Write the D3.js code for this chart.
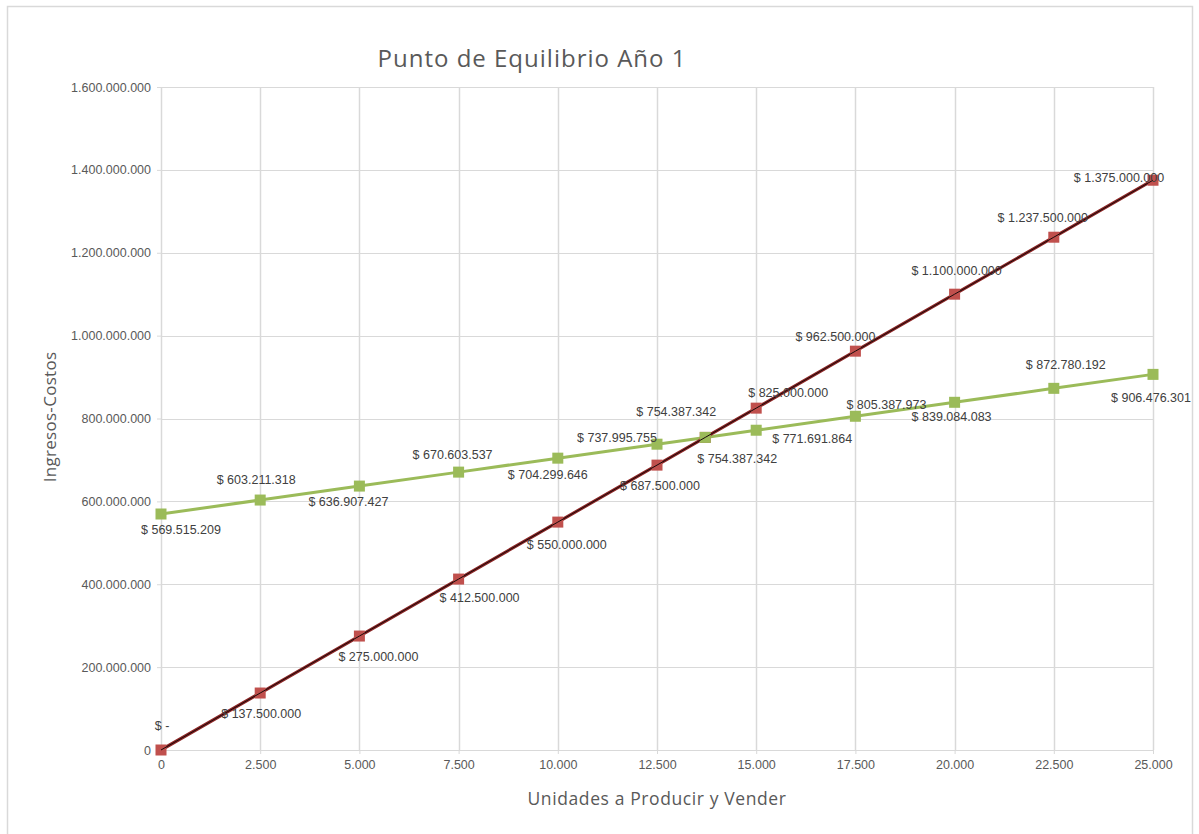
<!DOCTYPE html>
<html>
<head>
<meta charset="utf-8">
<script src="https://cdn.jsdelivr.net/npm/d3@7/dist/d3.min.js"></script>
<style>
  html, body { margin: 0; padding: 0; background: #ffffff; }
  svg { display: block; }
</style>
</head>
<body>
<svg id="chart" width="1199" height="834"></svg>
<script>
// Units produced and sold (includes the break-even point)
const unidades = [0, 2500, 5000, 7500, 10000, 12500, 13716, 15000, 17500, 20000, 22500, 25000];
// Total costs
const costos = [569515209, 603211318, 636907427, 670603537, 704299646, 737995755, 754387342,
                771691864, 805387973, 839084083, 872780192, 906476301];
// Revenue
const ingresos = [0, 137500000, 275000000, 412500000, 550000000, 687500000, 754387342,
                  825000000, 962500000, 1100000000, 1237500000, 1375000000];
const xTicks = [0, 2500, 5000, 7500, 10000, 12500, 15000, 17500, 20000, 22500, 25000];
const yTicks = [0, 200000000, 400000000, 600000000, 800000000, 1000000000, 1200000000, 1400000000, 1600000000];

// Label offsets (px) from each marker
const offCostos = [[20,16],[-4,-20],[-11,16],[-6,-17],[-10,16],[-40,-7],[-29,-26],[56,8],[31,-12],[-3,14],[12,-24],[-2,23]];
const offIngresos = [[1,-24],[1,21],[19,21],[21,19],[9,23],[3,21],[32,21],[32,-16],[-20,-15],[2,-24],[-11,-20],[-34,-3]];

const svg = d3.select("#chart");
const plotL = 161, plotR = 1153, plotT = 87, plotB = 750;

const x = d3.scaleLinear().domain([0, 25000]).range([plotL, plotR]);
const y = d3.scaleLinear().domain([0, 1600000000]).range([plotB, plotT]);

const fmtNum = v => d3.format(",")(v).replace(/,/g, ".");
const fmtMoney = v => v === 0 ? "$ -" : "$ " + fmtNum(v);

// Chart frame
svg.append("rect").attr("x", 7.5).attr("y", 6.5).attr("width", 1185).attr("height", 840)
  .attr("fill", "#fff").attr("stroke", "#d9d9d9").attr("stroke-width", 1.5);

// Gridlines
svg.append("g").selectAll("line").data(yTicks).join("line")
  .attr("x1", plotL).attr("x2", plotR)
  .attr("y1", d => Math.round(y(d)) + 0.5).attr("y2", d => Math.round(y(d)) + 0.5)
  .attr("stroke", "#d9d9d9").attr("stroke-width", 1);
svg.append("g").selectAll("line").data(xTicks).join("line")
  .attr("y1", plotT).attr("y2", plotB)
  .attr("x1", d => Math.round(x(d)) + 0.5).attr("x2", d => Math.round(x(d)) + 0.5)
  .attr("stroke", "#d9d9d9").attr("stroke-width", 1.5);

// Axes
const yAxis = d3.axisLeft(y).tickValues(yTicks).tickFormat(fmtNum).tickSize(4).tickPadding(6);
const xAxis = d3.axisBottom(x).tickValues(xTicks).tickFormat(fmtNum).tickSize(4).tickPadding(6);
const gy = svg.append("g").attr("transform", `translate(${plotL},0)`).call(yAxis);
const gx = svg.append("g").attr("transform", `translate(0,${plotB})`).call(xAxis);
[gy, gx].forEach(g => {
  g.select(".domain").attr("stroke", "#d9d9d9");
  g.selectAll(".tick line").attr("stroke", "#d9d9d9");
  g.selectAll("text").attr("fill", "#595959")
    .style("font-family", "'Liberation Sans', Arial, sans-serif").style("font-size", "12.5px");
});
gy.select(".domain").remove();

// Title and axis titles
svg.append("text").attr("x", 532).attr("y", 67).attr("text-anchor", "middle")
  .style("font-family", "'Open Sans', sans-serif").style("font-size", "24px")
  .style("letter-spacing", "1px").attr("fill", "#595959")
  .text("Punto de Equilibrio Año 1");
svg.append("text").attr("x", 657).attr("y", 805).attr("text-anchor", "middle")
  .style("font-family", "'Open Sans', sans-serif").style("font-size", "17.5px")
  .style("letter-spacing", "0.6px").attr("fill", "#595959")
  .text("Unidades a Producir y Vender");
svg.append("text").attr("transform", "translate(56,417) rotate(-90)").attr("text-anchor", "middle")
  .style("font-family", "'Open Sans', sans-serif").style("font-size", "17px")
  .style("letter-spacing", "0.3px").attr("fill", "#595959")
  .text("Ingresos-Costos");

const line = d3.line().x(d => x(d[0])).y(d => y(d[1]));
const costosPts = unidades.map((u, i) => [u, costos[i]]);
const ingresosPts = unidades.map((u, i) => [u, ingresos[i]]);
const ms = 11;

// Costs line
svg.append("path").datum(costosPts).attr("d", line)
  .attr("fill", "none").attr("stroke", "#9BBB59").attr("stroke-width", 3);

// Revenue line and markers
svg.append("path").datum(ingresosPts).attr("d", line)
  .attr("fill", "none").attr("stroke", "#8B2525").attr("stroke-width", 3.2);
svg.append("g").selectAll("rect").data(ingresosPts).join("rect")
  .attr("x", d => x(d[0]) - ms / 2).attr("y", d => y(d[1]) - ms / 2)
  .attr("width", ms).attr("height", ms).attr("fill", "#C0504D");

// Costs markers
svg.append("g").selectAll("rect").data(costosPts).join("rect")
  .attr("x", d => x(d[0]) - ms / 2).attr("y", d => y(d[1]) - ms / 2)
  .attr("width", ms).attr("height", ms).attr("fill", "#9BBB59");

// Linear trend over revenue
svg.append("path").datum(ingresosPts).attr("d", line)
  .attr("fill", "none").attr("stroke", "#1a0a0a").attr("stroke-width", 1);

// Data labels
function labels(pts, offs) {
  svg.append("g").selectAll("text").data(pts).join("text")
    .attr("x", (d, i) => x(d[0]) + offs[i][0])
    .attr("y", (d, i) => y(d[1]) + offs[i][1])
    .attr("dy", "0.35em").attr("text-anchor", "middle")
    .style("font-family", "'Liberation Sans', Arial, sans-serif").style("font-size", "12.5px")
    .attr("fill", "#404040")
    .text(d => fmtMoney(d[1]));
}
labels(costosPts, offCostos);
labels(ingresosPts, offIngresos);
</script>
</body>
</html>
